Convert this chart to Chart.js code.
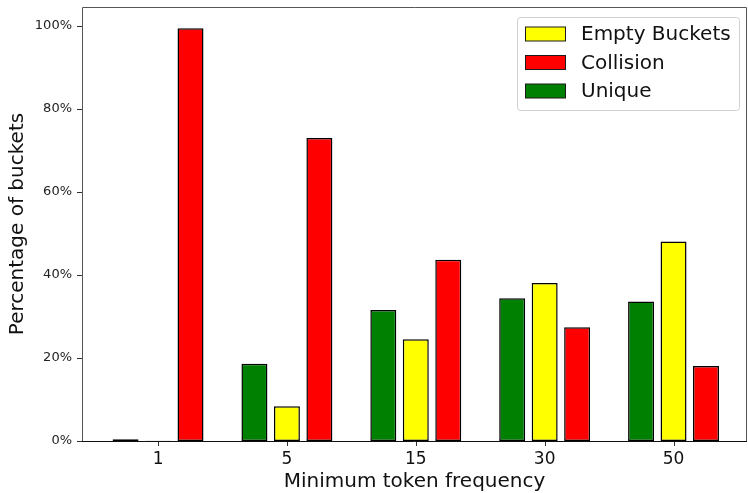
<!DOCTYPE html>
<html>
<head>
<meta charset="utf-8">
<script src="https://cdn.jsdelivr.net/npm/chart.js@4"></script>
<style>
html,body{margin:0;padding:0;background:#fff;}
#wrap{width:748px;height:493px;position:relative;}
</style>
</head>
<body>
<div id="wrap"><canvas id="c" width="748" height="493"></canvas></div>
<script>
const categories = ['1', '5', '15', '30', '50'];
const uniqueVals = [0.4, 18.6, 31.6, 34.4, 33.6];
const emptyVals = [0.05, 8.4, 24.5, 38.1, 48.1];
const collisionVals = [99.5, 73.0, 43.7, 27.4, 18.1];
const yTicks = [0, 20, 40, 60, 80, 100];
const legendOrder = ['Empty Buckets', 'Collision', 'Unique'];

const FONT = "'DejaVu Sans', sans-serif";

function pts(arr){ return arr.map((v,i)=>({x:i, y:v})); }

const datasets = [
  {label:'Unique', data:pts(uniqueVals), backgroundColor:'#008000'},
  {label:'Empty Buckets', data:pts(emptyVals), backgroundColor:'#ffff00'},
  {label:'Collision', data:pts(collisionVals), backgroundColor:'#ff0000'}
].map(d=>Object.assign(d,{borderColor:'#000', borderWidth:1.5, borderSkipped:false, inflateAmount:0,
  barPercentage:0.8, categoryPercentage:0.756}));

const framePlugin = {
  id:'frame',
  afterDatasetsDraw(chart){
    const {ctx, chartArea:a} = chart;
    const xs = chart.scales.x, ys = chart.scales.y;
    ctx.save();
    ctx.lineWidth = 1;
    ctx.strokeStyle = '#555';
    ctx.beginPath();
    ctx.moveTo(a.left+0.5, a.bottom);
    ctx.lineTo(a.left+0.5, a.top+0.5);
    ctx.lineTo(a.right-0.5, a.top+0.5);
    ctx.lineTo(a.right-0.5, a.bottom);
    ctx.stroke();
    ctx.strokeStyle = '#333';
    ctx.beginPath();
    categories.forEach((c,i)=>{
      const px = Math.round(xs.getPixelForValue(i)) + 0.5;
      ctx.moveTo(px, a.bottom); ctx.lineTo(px, a.bottom + 5);
    });
    yTicks.forEach(v=>{
      const py = Math.round(ys.getPixelForValue(v)) + 0.5;
      ctx.moveTo(a.left - 5, py); ctx.lineTo(a.left, py);
    });
    ctx.stroke();
    ctx.strokeStyle = '#111';
    ctx.beginPath();
    ctx.moveTo(a.left, a.bottom+0.5);
    ctx.lineTo(a.right, a.bottom+0.5);
    ctx.stroke();
    ctx.restore();
  }
};

const legendPlugin = {
  id:'customLegend',
  afterDraw(chart){
    const ctx = chart.ctx;
    const bx = 517.5, by = 17.5, bw = 222, bh = 93;
    ctx.save();
    ctx.fillStyle = 'rgba(255,255,255,0.8)';
    ctx.strokeStyle = '#d0d0d0';
    ctx.lineWidth = 1;
    ctx.beginPath();
    ctx.roundRect(bx, by, bw, bh, 3);
    ctx.fill();
    ctx.stroke();
    ctx.font = "20px " + FONT;
    ctx.textBaseline = 'middle';
    legendOrder.forEach((lab, i) => {
      const ds = chart.data.datasets.find(d => d.label === lab);
      const cy = 34 + i * 28.5;
      ctx.fillStyle = ds.backgroundColor;
      ctx.fillRect(525.5, cy - 7, 40, 14);
      ctx.strokeStyle = '#1a1a1a';
      ctx.strokeRect(525.5, cy - 7, 40, 14);
      ctx.fillStyle = '#111';
      ctx.fillText(lab, 581, cy + 1);
    });
    ctx.restore();
  }
};

new Chart(document.getElementById('c'), {
  type:'bar',
  data:{datasets},
  plugins:[framePlugin, legendPlugin],
  options:{
    responsive:false,
    animation:false,
    layout:{padding:{top:7, right:1, left:0, bottom:0}},
    plugins:{legend:{display:false}, tooltip:{enabled:false}},
    scales:{
      x:{
        type:'linear',
        min:-0.59, max:4.57,
        offset:false,
        afterBuildTicks(s){ s.ticks = categories.map((c,i)=>({value:i})); },
        afterFit(s){ s.height = 52; s.paddingLeft = 0; s.paddingRight = 0; },
        ticks:{callback:(v)=>categories[v] ?? '', color:'#111', font:{family:FONT, size:17}, padding:3, maxRotation:0, autoSkip:false},
        grid:{display:false, tickLength:5},
        border:{display:false},
        title:{display:true, text:'Minimum token frequency', color:'#111', font:{family:FONT, size:20}, padding:{top:0, bottom:-1}}
      },
      y:{
        type:'linear',
        min:0, max:104.6,
        afterBuildTicks(s){ s.ticks = yTicks.map(v=>({value:v})); },
        afterFit(s){ s.width = 82; s.paddingTop = 0; s.paddingBottom = 0; },
        ticks:{callback:(v)=>v+'%', color:'#222', font:{family:FONT, size:13}, padding:5},
        grid:{display:false, tickLength:5},
        border:{display:false},
        title:{display:true, text:'Percentage of buckets', color:'#111', font:{family:FONT, size:20}, padding:{top:6, bottom:0}}
      }
    }
  }
});
</script>
</body>
</html>
